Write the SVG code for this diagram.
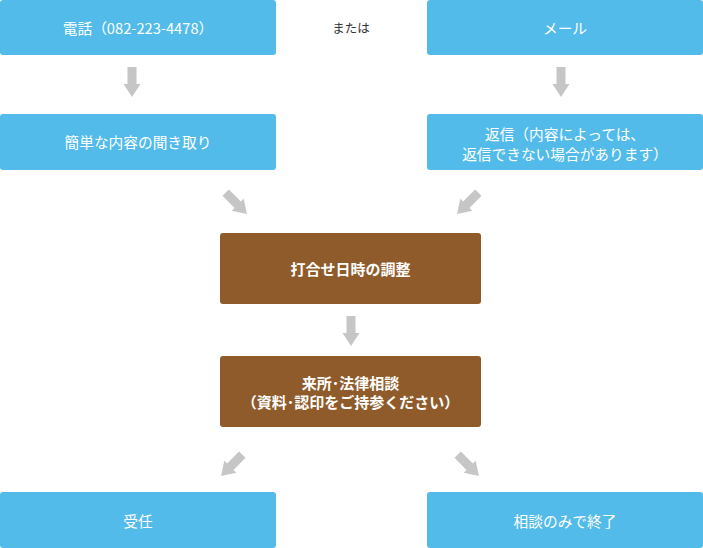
<svg xmlns="http://www.w3.org/2000/svg" xmlns:xlink="http://www.w3.org/1999/xlink" width="703" height="548" viewBox="0 0 703 548">
<style>
.blue{fill:#53bbea}
.brown{fill:#8f5b2b}
.t{font-family:"Noto Sans CJK JP","Noto Sans",sans-serif;font-size:14.7px;fill:#fff;text-anchor:middle;dominant-baseline:central}
.b{font-weight:bold;font-size:15px}
.arr{fill:#c6c6c6}
</style>
<defs>
<path id="arr" class="arr" d="M-4.5,0 H4.5 V17 H8.5 L0,30 L-8.5,17 H-4.5 Z"/>
</defs>
<rect width="703" height="548" fill="#fff"/>
<g id="n-phone"><rect class="blue" x="0" y="0" width="276" height="55" rx="3"/><text class="t" x="138" y="27">電話（082-223-4478）</text></g>
<g id="n-or"><text x="351" y="27" font-family="'Noto Sans CJK JP',sans-serif" font-size="12.5" fill="#333" text-anchor="middle" dominant-baseline="central">または</text></g>
<g id="n-mail"><rect class="blue" x="427" y="0" width="276" height="55" rx="3"/><text class="t" x="565" y="27">メール</text></g>
<g id="n-hear"><rect class="blue" x="0" y="114" width="276" height="56" rx="3"/><text class="t" x="138" y="141">簡単な内容の聞き取り</text></g>
<g id="n-reply"><rect class="blue" x="427" y="114" width="276" height="56" rx="3"/><text class="t" x="565" y="133">返信（内容によっては、</text><text class="t" x="565" y="153">返信できない場合があります）</text></g>
<g id="n-adjust"><rect class="brown" x="220" y="233" width="261" height="71" rx="3"/><text class="t b" x="350.5" y="268">打合せ日時の調整</text></g>
<g id="n-visit"><rect class="brown" x="220" y="356" width="261" height="71" rx="3"/><text class="t b" x="350.5" y="382">来所･法律相談</text><text class="t b" x="350.5" y="401">（資料･認印をご持参ください）</text></g>
<g id="n-accept"><rect class="blue" x="0" y="492" width="276" height="56" rx="3"/><text class="t" x="138" y="520">受任</text></g>
<g id="n-end"><rect class="blue" x="427" y="492" width="276" height="56" rx="3"/><text class="t" x="565" y="520">相談のみで終了</text></g>
<g id="connectors">
<use href="#arr" transform="translate(132,67)"/>
<use href="#arr" transform="translate(561,67)"/>
<use href="#arr" transform="translate(237,204) rotate(-45) translate(0,-16)"/>
<use href="#arr" transform="translate(467,204) rotate(45) translate(0,-16)"/>
<use href="#arr" transform="translate(351,316)"/>
<use href="#arr" transform="translate(231,466) rotate(45) translate(0,-16)"/>
<use href="#arr" transform="translate(469,466) rotate(-45) translate(0,-16)"/>
</g>
</svg>
